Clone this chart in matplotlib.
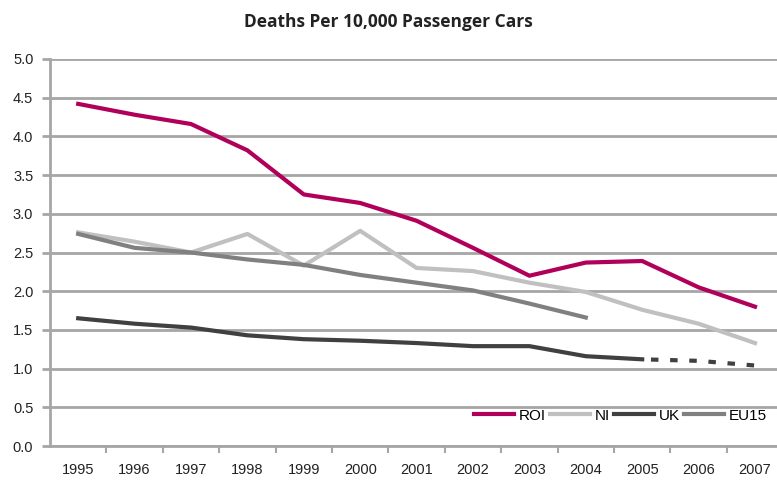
import matplotlib.pyplot as plt
import numpy as np

years = ['1995', '1996', '1997', '1998', '1999', '2000', '2001',
         '2002', '2003', '2004', '2005', '2006', '2007']
roi = [4.42, 4.28, 4.16, 3.82, 3.25, 3.14, 2.91, 2.56, 2.20, 2.37, 2.39, 2.05, 1.80]
ni = [2.76, 2.64, 2.50, 2.74, 2.33, 2.78, 2.30, 2.26, 2.11, 1.99, 1.76, 1.58, 1.33]
eu15 = [2.74, 2.56, 2.50, 2.41, 2.34, 2.21, 2.11, 2.01, 1.84, 1.66]
uk = [1.65, 1.58, 1.53, 1.43, 1.38, 1.36, 1.33, 1.29, 1.29, 1.16, 1.12]
uk_proj = [1.12, 1.10, 1.04]   # 2005-2007, dotted

x = np.arange(len(years))

fig = plt.figure(figsize=(7.77, 4.82), dpi=100)
ax = fig.add_axes([50 / 777, 36 / 482, 727 / 777, 387 / 482])

ax.set_ylim(0, 5)
ax.set_xlim(-0.5, 12.39)
ax.set_yticks(np.arange(0, 5.01, 0.5))
ax.set_yticklabels(['%.1f' % v for v in np.arange(0, 5.01, 0.5)])
ax.grid(axis='y', color='#a6a6a6', lw=2)
ax.set_axisbelow(True)

ax.plot(x, roi, color='#b0005a', lw=3, label='ROI')
ax.plot(x, ni, color='#c0c0c0', lw=3, label='NI')
ax.plot(x[:len(uk)], uk, color='#404040', lw=3, label='UK')
ax.plot(x[:len(eu15)], eu15, color='#808080', lw=3, label='EU15')
ax.plot(x[10:], uk_proj, color='#404040', lw=3, ls=(2.5, (1.8, 2.8)))

ax.set_xticks(x)
ax.set_xticklabels(years)
ax.set_xticks(x[:-1] + 0.5, minor=True)
ax.tick_params(axis='x', which='major', length=0, pad=12, labelsize=10.5)
ax.tick_params(axis='x', which='minor', length=5, color='#a6a6a6', width=1.5, direction='out')
ax.tick_params(axis='y', length=6, color='#a6a6a6', width=2, pad=6, labelsize=10.5)

for s in ['top', 'right']:
    ax.spines[s].set_visible(False)
ax.spines['left'].set_color('#a6a6a6')
ax.spines['left'].set_linewidth(2)
ax.spines['bottom'].set_color('#a6a6a6')
ax.spines['bottom'].set_linewidth(2)

for lab in ax.get_xticklabels() + ax.get_yticklabels():
    lab.set_fontfamily('Liberation Sans')
    lab.set_color('#222222')

ax.legend(loc='lower right', bbox_to_anchor=(1.005, 0.025), ncol=4, frameon=False,
          handlelength=2.6, columnspacing=0.3, handletextpad=0.3,
          prop={'family': 'Liberation Sans', 'size': 11})

fig.text(0.5, 0.955, 'Deaths Per 10,000 Passenger Cars', ha='center', va='center',
         fontsize=12.5, fontfamily='Open Sans', fontweight='bold', color='#222222')

fig.savefig('out.png', dpi=100)
